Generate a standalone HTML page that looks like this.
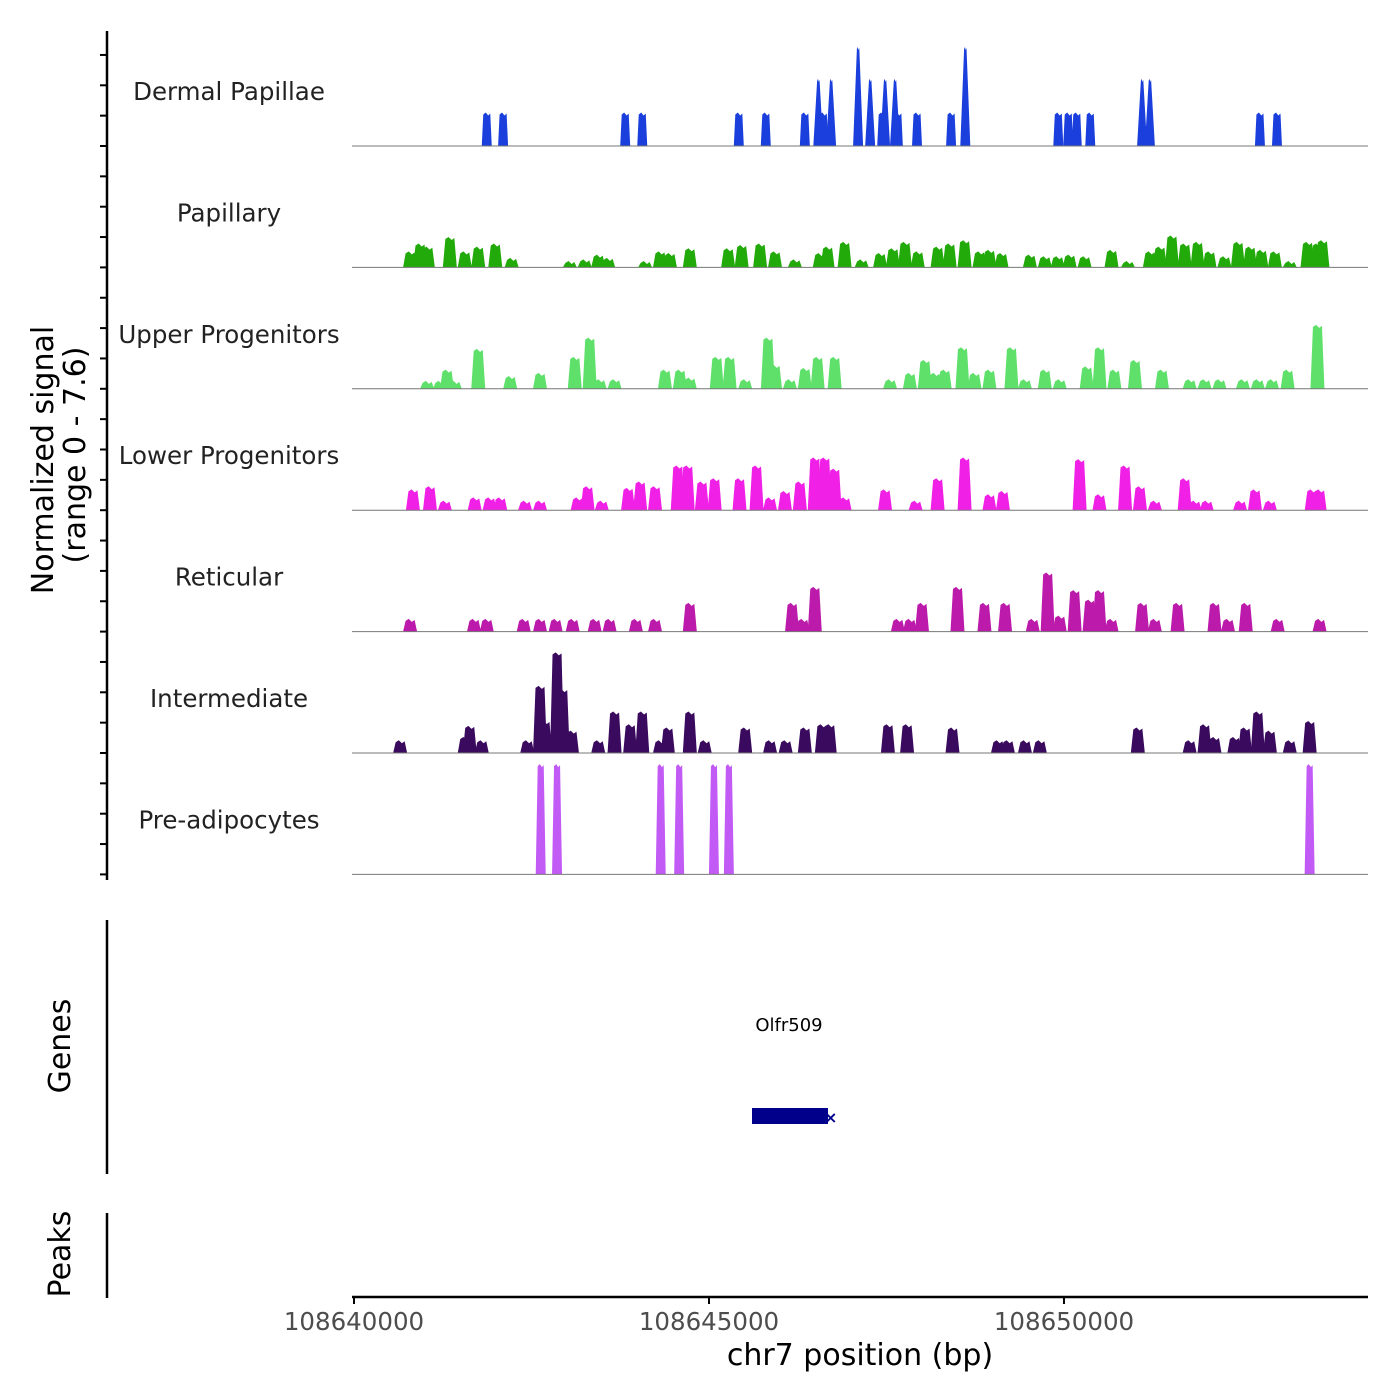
<!DOCTYPE html>
<html><head><meta charset="utf-8"><style>
html,body{margin:0;padding:0;background:#fff;}
svg{display:block;font-family:"DejaVu Sans","Liberation Sans",sans-serif;}
</style></head><body>
<svg id="chart" width="1400" height="1400" viewBox="0 0 1400 1400" xmlns="http://www.w3.org/2000/svg">
<g id="tracks"></g>
<g id="axes"></g>
<text transform="translate(53,460) rotate(-90)" text-anchor="middle" font-size="30" fill="#000">Normalized signal</text>
<text transform="translate(85,455) rotate(-90)" text-anchor="middle" font-size="30" fill="#000">(range 0 - 7.6)</text>
<text transform="translate(70,1046) rotate(-90)" text-anchor="middle" font-size="30" fill="#000">Genes</text>
<text transform="translate(70,1254) rotate(-90)" text-anchor="middle" font-size="30" fill="#000">Peaks</text>
<text x="789" y="1031" text-anchor="middle" font-size="18" fill="#000">Olfr509</text>
<rect x="752" y="1108" width="76" height="16" fill="#00008b"/>
<text x="824" y="1123" font-size="16" font-weight="bold" fill="#00008b">×</text>
<text x="860" y="1365" text-anchor="middle" font-size="30" fill="#000">chr7 position (bp)</text>
</svg>
<script>
// data: positions in kb offset from 108640000, values in normalized signal
const trackNames = ["Dermal Papillae","Papillary","Upper Progenitors","Lower Progenitors","Reticular","Intermediate","Pre-adipocytes"];
const trackColors = ["#1a3fdc","#22aa0a","#5ee06a","#f020e6","#bb1aaa","#3a0a5e","#c25af5"];
const dpPos = [1.87,2.10,3.82,4.06,5.42,5.80,6.35,6.54,6.61,6.72,7.10,7.27,7.44,7.48,7.62,7.66,7.93,8.41,8.61,9.92,10.06,10.18,10.37,11.10,11.21,12.76,13.00];
const dpVal = [2.1,2.1,2.1,2.1,2.1,2.1,2.1,4.2,2.1,4.2,6.2,4.2,2.1,4.2,4.2,2.1,2.1,2.1,6.2,2.1,2.1,2.1,2.1,4.2,4.2,2.1,2.1];
const papPos = [0.79,0.93,1.04,1.35,1.56,1.75,1.99,2.22,3.04,3.25,3.44,3.58,4.10,4.31,4.45,4.73,5.27,5.46,5.72,5.93,6.21,6.56,6.67,6.91,7.15,7.41,7.59,7.76,7.94,8.22,8.39,8.60,8.81,8.95,9.12,9.52,9.73,9.91,10.08,10.29,10.67,10.90,11.21,11.35,11.52,11.70,11.88,12.05,12.26,12.45,12.62,12.78,12.97,13.18,13.43,13.57,13.64];
const papVal = [1.0,1.5,1.3,1.9,1.0,1.3,1.5,0.6,0.4,0.5,0.8,0.6,0.4,1.0,0.9,1.2,1.2,1.4,1.5,1.0,0.5,0.9,1.3,1.6,0.5,0.9,1.2,1.6,1.0,1.3,1.5,1.7,1.0,1.1,0.9,0.8,0.7,0.7,0.8,0.7,1.1,0.4,1.0,1.3,2.0,1.5,1.6,1.0,0.7,1.6,1.3,1.1,1.0,0.4,1.6,1.5,1.7];
const upPos = [1.03,1.21,1.31,1.42,1.75,2.20,2.62,3.11,3.32,3.46,3.67,4.38,4.59,4.73,5.11,5.29,5.51,5.83,5.93,6.14,6.35,6.53,6.77,7.55,7.83,8.04,8.18,8.32,8.57,8.74,8.95,9.26,9.45,9.73,9.94,10.32,10.50,10.71,11.00,11.38,11.77,11.98,12.19,12.52,12.73,12.93,13.15,13.57];
const upVal = [0.5,0.5,1.2,0.5,2.5,0.8,1.0,2.0,3.2,0.6,0.6,1.2,1.2,0.7,2.0,2.0,0.6,3.2,1.5,0.6,1.3,2.0,2.0,0.6,1.0,1.8,1.0,1.2,2.6,1.0,1.2,2.6,0.6,1.2,0.6,1.4,2.6,1.2,1.8,1.2,0.6,0.6,0.6,0.6,0.6,0.6,1.2,4.0];
const lpPos = [0.83,1.07,1.28,1.70,1.91,2.06,2.41,2.62,3.15,3.29,3.49,3.86,4.03,4.24,4.56,4.70,4.90,5.08,5.43,5.67,5.86,6.07,6.28,6.49,6.63,6.77,6.91,7.48,7.91,8.22,8.60,8.95,9.14,10.22,10.50,10.86,11.07,11.28,11.70,11.84,12.01,12.48,12.69,12.90,13.49,13.60];
const lpVal = [1.3,1.5,0.6,0.8,0.8,0.8,0.6,0.6,0.8,1.5,0.6,1.4,1.8,1.5,2.8,2.8,1.8,2.0,2.0,2.8,0.8,1.2,1.8,3.3,3.3,2.6,0.8,1.3,0.6,2.0,3.3,1.0,1.2,3.2,1.0,2.8,1.5,0.6,2.0,0.6,0.6,0.6,1.3,0.6,1.3,1.3];
const retPos = [0.79,1.69,1.87,2.39,2.62,2.84,3.08,3.39,3.60,3.97,4.24,4.73,6.17,6.32,6.49,7.66,7.83,8.00,8.50,8.88,9.17,9.56,9.77,9.94,10.15,10.36,10.50,10.67,11.10,11.28,11.60,12.12,12.31,12.56,13.01,13.60];
const retVal = [0.8,0.8,0.8,0.8,0.8,0.8,0.8,0.8,0.8,0.8,0.8,1.8,1.8,0.8,2.8,0.8,0.8,1.8,2.8,1.8,1.8,0.8,3.7,1.0,2.6,2.0,2.6,0.8,1.8,0.8,1.8,1.8,0.8,1.8,0.8,0.8];
const intPos = [0.65,1.56,1.63,1.80,2.44,2.62,2.69,2.86,2.94,3.07,3.44,3.67,3.89,4.06,4.31,4.42,4.73,4.94,5.51,5.86,6.08,6.35,6.59,6.70,7.52,7.79,8.43,9.07,9.21,9.45,9.66,11.04,11.77,11.98,12.12,12.40,12.55,12.73,12.90,13.18,13.46];
const intVal = [0.8,1.0,1.7,0.8,0.8,4.2,2.0,6.3,4.0,1.4,0.8,2.6,1.8,2.6,0.8,1.6,2.6,0.8,1.6,0.8,0.8,1.6,1.8,1.8,1.8,1.8,1.6,0.8,0.8,0.8,0.8,1.6,0.8,1.8,1.0,1.0,1.6,2.6,1.4,0.8,2.0];
const prePos = [2.63,2.86,4.32,4.58,5.07,5.28,13.46];
const preVal = [6.9,6.9,6.9,6.9,6.9,6.9,6.9];
const allPos = [dpPos,papPos,upPos,lpPos,retPos,intPos,prePos];
const allVal = [dpVal,papVal,upVal,lpVal,retVal,intVal,preVal];
const xTicks = [108640000,108645000,108650000];

const NS="http://www.w3.org/2000/svg";
const X0=352,X1=1368,BP0=108639972,BP1=108654282;
const xScale = bp => X0 + (bp-BP0)/(BP1-BP0)*(X1-X0);
const xKb = kb => xScale(108640000 + kb*1000);
const trackH = 121.4, firstBase = 146;
const base = i => firstBase + i*trackH;
const yScale = (i,v) => base(i) - v/7.6*trackH;
function mk(tag,attrs,parent){const e=document.createElementNS(NS,tag);for(const k in attrs)e.setAttribute(k,attrs[k]);parent.appendChild(e);return e;}
const tracks=document.getElementById('tracks'), axes=document.getElementById('axes');
for(let i=0;i<trackNames.length;i++){
  const g=mk('g',{},tracks);
  
  
  const pos=allPos[i], val=allVal[i];
  for(let j=0;j<pos.length;j++){
    const cx=xKb(pos[j]), top=yScale(i,val[j]), b=base(i);
    let w, tw;
    if(i===0){ w=5; tw = val[j]>3 ? 1.2 : 3.5; }
    else if(i===6){ w=5; tw=3; }
    else { w=7; tw=4.5; }
    const p=mk('polygon',{points:`${cx-w},${b} ${cx-tw},${top+2} ${cx-tw*0.3},${top} ${cx+tw*0.4},${top+3} ${cx+tw},${top+1} ${cx+w},${b}`,fill:trackColors[i]},g);
    
    
  }
  const bl=mk('line',{x1:X0,x2:X1,y1:base(i),y2:base(i),stroke:'#777','stroke-width':1},g);
  
  
  const t=mk('text',{x:229,y:base(i)-46,'text-anchor':'middle','font-size':24.5,fill:'#222'},g);
  t.textContent=trackNames[i];
  
  
}
// left axes
const la=mk('line',{x1:107,x2:107,y1:31,y2:880,stroke:'#000','stroke-width':2.5},axes);


for(let i=0;i<7;i++){
  for(let k=0;k<4;k++){
    const y=base(i)-k*trackH/4;
    const tk=mk('line',{x1:100,x2:107,y1:y,y2:y,stroke:'#000','stroke-width':2},axes);
    
    
  }
}
const ga=mk('line',{x1:107,x2:107,y1:920,y2:1174,stroke:'#000','stroke-width':2.5},axes);


const pa=mk('line',{x1:107,x2:107,y1:1213,y2:1298,stroke:'#000','stroke-width':2.5},axes);


const xa=mk('line',{x1:X0,x2:X1,y1:1297,y2:1297,stroke:'#000','stroke-width':2.5},axes);


for(const t of xTicks){
  const x=xScale(t);
  const tk=mk('line',{x1:x,x2:x,y1:1297,y2:1304,stroke:'#000','stroke-width':2},axes);
  
  
  const lb=mk('text',{x:x,y:1330,'text-anchor':'middle','font-size':24.5,fill:'#4d4d4d'},axes);
  lb.textContent=String(t);
  
  
}
</script>
</body></html>
